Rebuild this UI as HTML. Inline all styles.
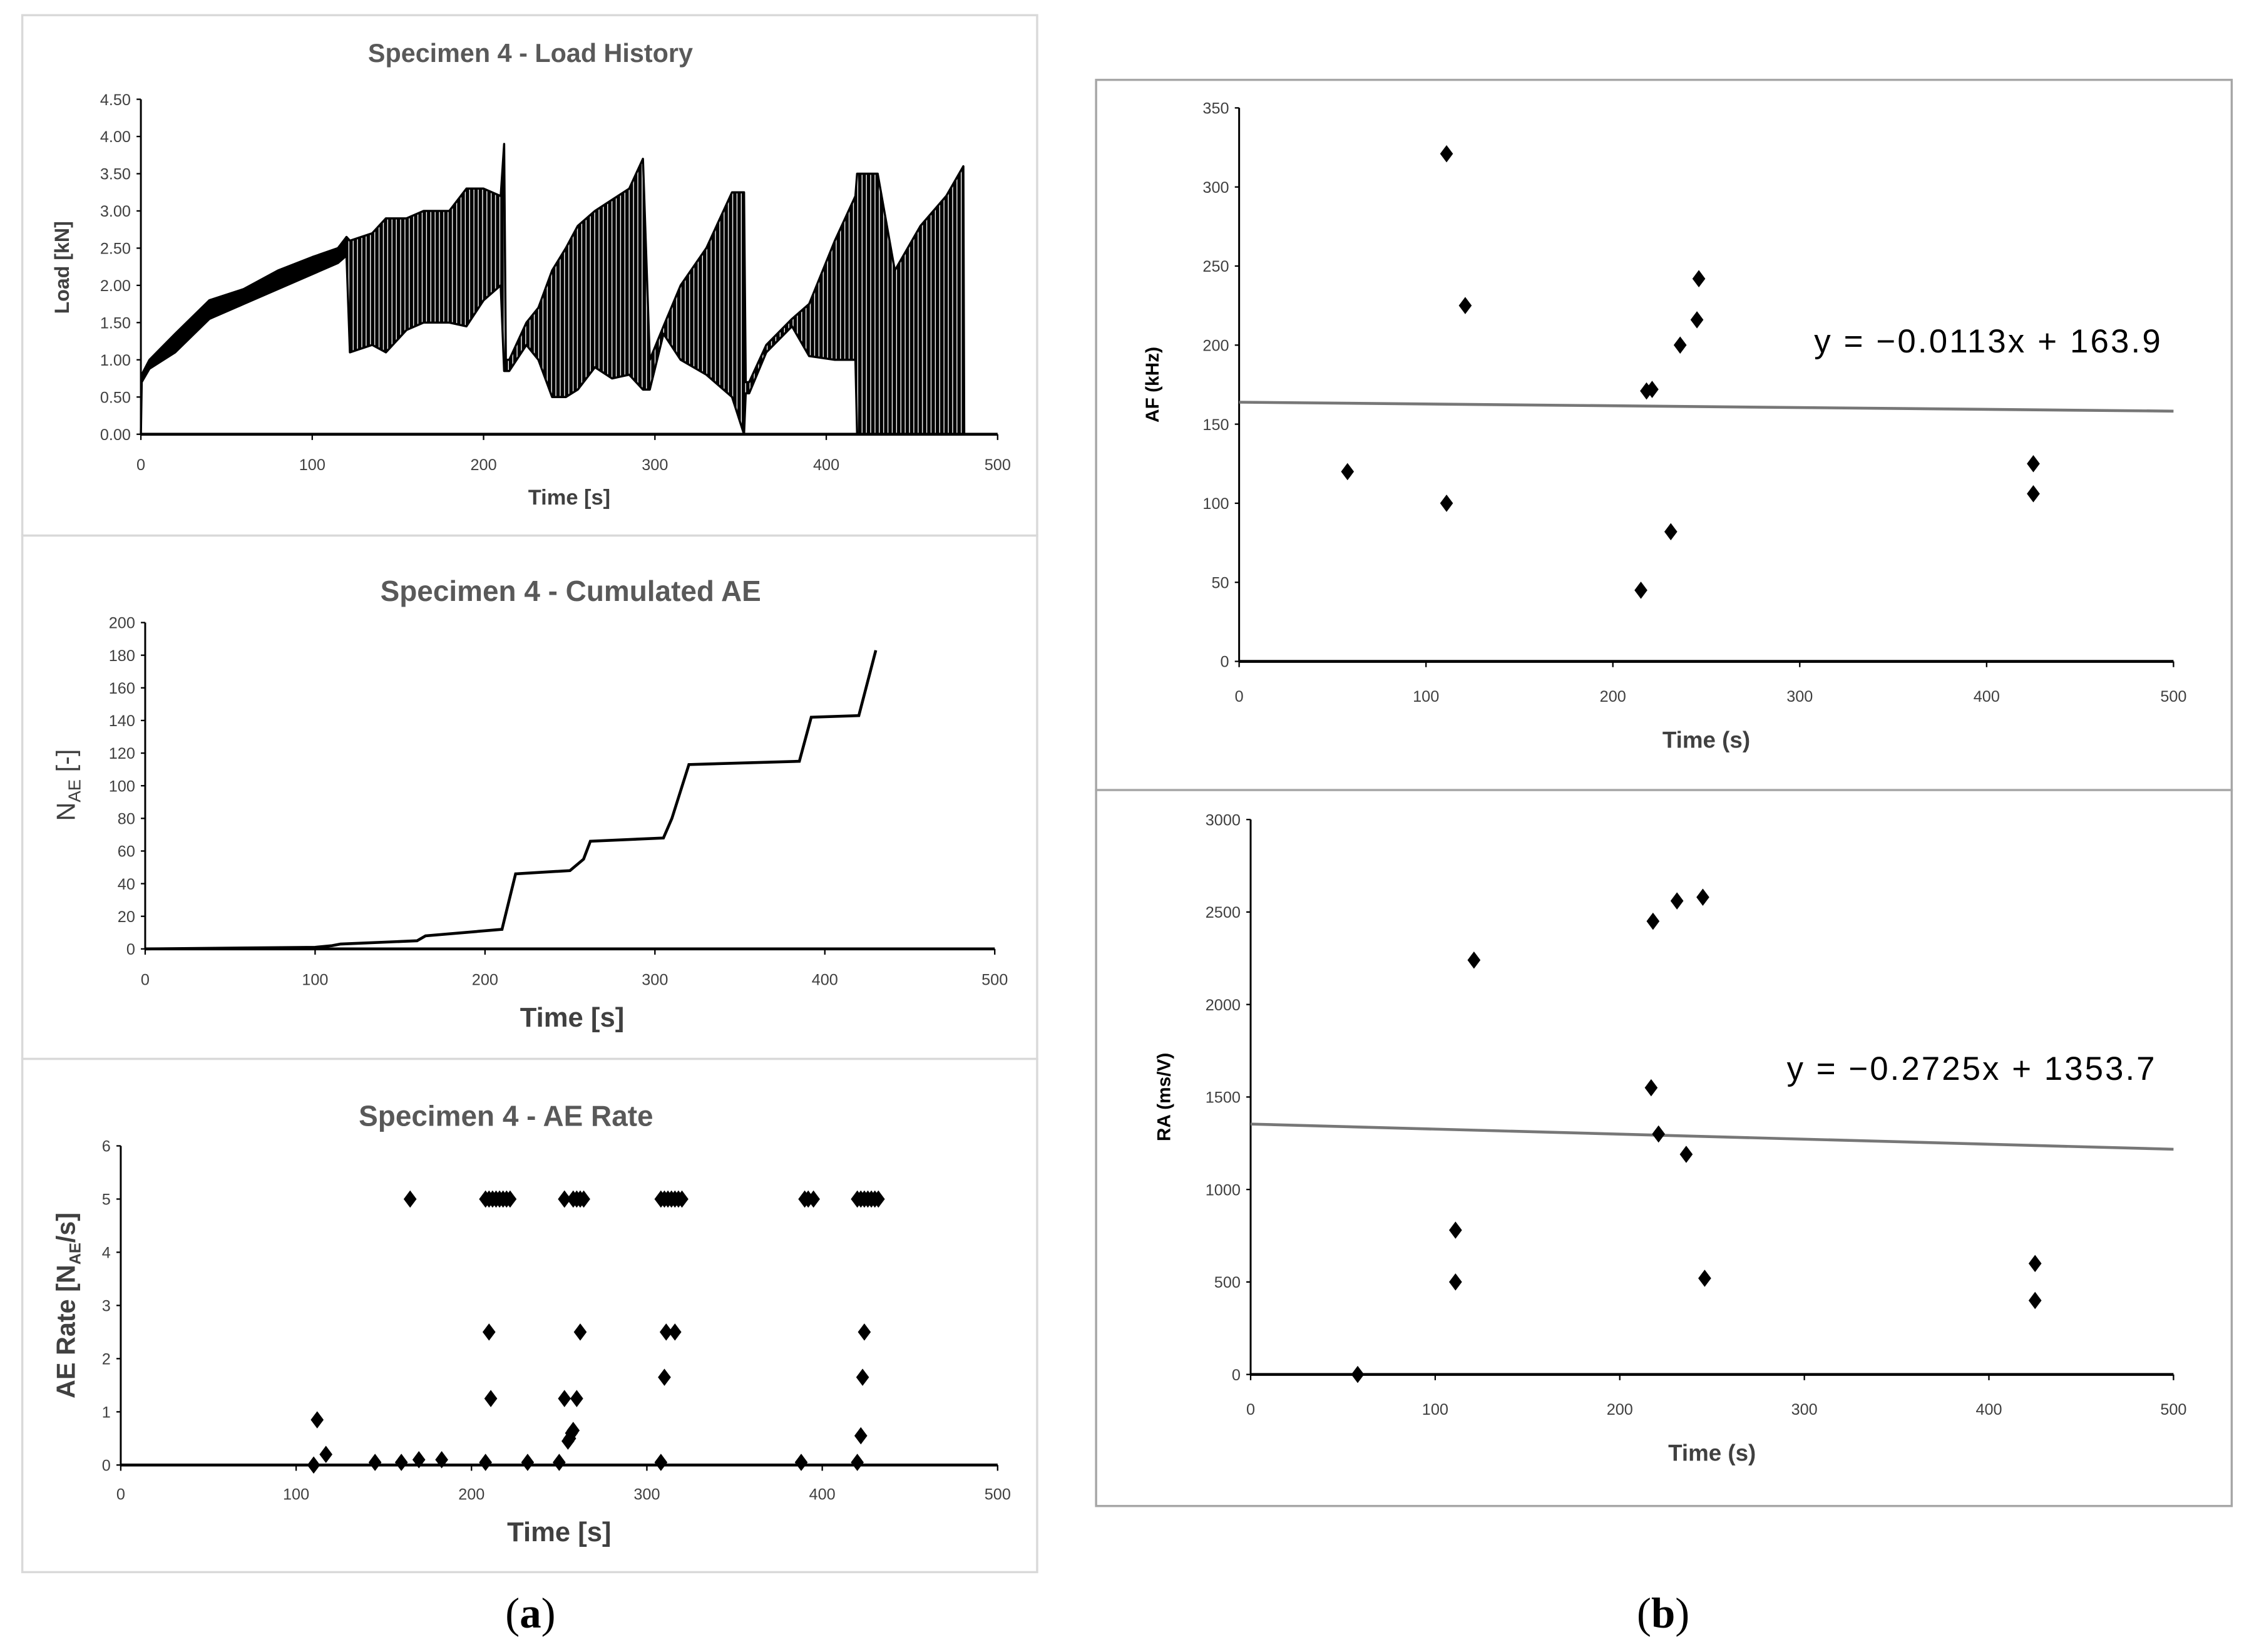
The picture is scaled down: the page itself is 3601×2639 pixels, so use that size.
<!DOCTYPE html>
<html><head><meta charset="utf-8"><style>
html,body{margin:0;padding:0;background:#fff}
svg{display:block}
text{font-family:"Liberation Sans Narrow","Liberation Sans",sans-serif}
.tick{fill:#404040;font-size:11px}
.title{fill:#595959;font-size:18px;font-weight:bold}
.axt{fill:#404040;font-size:15px;font-weight:bold}
</style></head><body>
<svg id="fig" width="3601" height="2639" viewBox="0 0 1568 1149" xmlns="http://www.w3.org/2000/svg">
<defs>
<pattern id="vstripes" patternUnits="userSpaceOnUse" width="3" height="10"><rect x="0" y="0" width="2.4" height="10" fill="#000"/></pattern>
</defs>
<rect x="0" y="0" width="1568" height="1149" fill="#fff"/>
<rect x="15.5" y="10.5" width="706" height="362" fill="#fff" stroke="#d9d9d9" stroke-width="1.5"/>
<rect x="15.5" y="372.5" width="706" height="364" fill="#fff" stroke="#d9d9d9" stroke-width="1.5"/>
<rect x="15.5" y="736.5" width="706" height="357" fill="#fff" stroke="#d9d9d9" stroke-width="1.5"/>
<rect x="762.5" y="55.5" width="790" height="494" fill="#fff" stroke="#a6a6a6" stroke-width="1.5"/>
<rect x="762.5" y="549.5" width="790" height="498" fill="#fff" stroke="#a6a6a6" stroke-width="1.5"/>
<text x="369" y="1132" text-anchor="middle" style="font-family:'Liberation Serif',serif;font-size:30px">(<tspan font-weight="bold">a</tspan>)</text>
<text x="1157" y="1132" text-anchor="middle" style="font-family:'Liberation Serif',serif;font-size:30px">(<tspan font-weight="bold">b</tspan>)</text>
<g id="g"></g>
</svg>
<script>
// Load history envelope
const loadT =   [0,0.5,5,20,40,60,80,100,115,120,122,135,143,155,165,180,190,200,210,212,213,215,225,232,240,248,255,265,275,285,293,297,305,315,330,345,352,353,355,365,380,390,405,417,418,430,440,455,470,480,480.5];
const loadHi =  [0,0.8,1.0,1.35,1.8,1.95,2.2,2.38,2.5,2.65,2.6,2.7,2.9,2.9,3.0,3.0,3.3,3.3,3.2,3.9,1.0,1.0,1.5,1.7,2.2,2.5,2.8,3.0,3.15,3.3,3.7,1.0,1.45,2.0,2.5,3.25,3.25,0.7,0.7,1.2,1.55,1.75,2.6,3.2,3.5,3.5,2.2,2.8,3.2,3.6,0];
const loadLo =  [0,0.7,0.88,1.1,1.55,1.75,1.95,2.15,2.3,2.4,1.1,1.2,1.1,1.4,1.5,1.5,1.45,1.8,2.0,0.85,0.85,0.85,1.2,1.0,0.5,0.5,0.6,0.9,0.75,0.8,0.6,0.6,1.35,1.0,0.8,0.5,0,0.55,0.55,1.1,1.45,1.05,1.0,1.0,0,0,0,0,0,0,0];
const loadYTicks = [0,0.5,1,1.5,2,2.5,3,3.5,4,4.5];
const timeTicks = [0,100,200,300,400,500];
// Cumulated AE
const cumT = [0,100,110,115,160,165,210,218,250,258,262,305,310,320,385,392,420,430];
const cumN = [0,1,2,3,5,8,12,46,48,55,66,68,80,113,115,142,143,183];
const cumYTicks = [0,20,40,60,80,100,120,140,160,180,200];
// AE rate
const rateT = [110,112,117,145,160,165,170,183,208,210,211,208,210,212,214,216,218,220,222,232,250,253,253,255,256,257,258,260,262,253,258,260,262,264,308,310,311,316,308,310,312,314,316,318,320,388,390,392,395,420,422,423,424,420,422,424,426,428,430,432];
const rateV = [0,0.85,0.2,0.05,0.05,5,0.1,0.1,0.05,2.5,1.25,5,5,5,5,5,5,5,5,0.05,0.05,1.25,5,0.45,0.5,0.6,0.65,1.25,2.5,5,5,5,5,5,0.05,1.65,2.5,2.5,5,5,5,5,5,5,5,0.05,5,5,5,0.05,0.55,1.65,2.5,5,5,5,5,5,5,5];
const rateYTicks = [0,1,2,3,4,5,6];
// AF
const afT = [58,111,111,121,215,218,221,231,236,245,246,425,425];
const afV = [120,321,100,225,45,171,172,82,200,216,242,125,106];
const afTrend = [-0.0113,163.9];
const afYTicks = [0,50,100,150,200,250,300,350];
// RA
const raT = [58,111,111,121,217,218,221,231,236,245,246,425,425];
const raV = [0,780,500,2240,1550,2450,1300,2560,1190,2580,520,600,400];
const raTrend = [-0.2725,1353.7];
const raYTicks = [0,500,1000,1500,2000,2500,3000];

const NS="http://www.w3.org/2000/svg";
const G=document.getElementById('g');
function el(tag,attrs,parent){const e=document.createElementNS(NS,tag);for(const k in attrs)e.setAttribute(k,attrs[k]);(parent||G).appendChild(e);return e;}
function txt(s,attrs,parent){const e=el('text',attrs,parent);e.textContent=s;return e;}
function scale(d0,d1,r0,r1){return v=>r0+(v-d0)/(d1-d0)*(r1-r0);}

function axes(o){
  const g=el('g',{});
  
  
  el('line',{x1:o.x0,y1:o.y0,x2:o.x0,y2:o.y1,stroke:'#000','stroke-width':1.3},g);
  el('line',{x1:o.x0,y1:o.y0,x2:o.x1,y2:o.y0,stroke:'#000','stroke-width':2},g);
  o.yt.forEach(v=>{const y=o.sy(v);
    el('line',{x1:o.x0-3,y1:y,x2:o.x0,y2:y,stroke:'#000'},g);
    const t=txt(o.yf?o.yf(v):String(v),{x:o.x0-7,y:y+4,'text-anchor':'end',class:'tick'},g);
    
    });
  timeTicks.forEach(v=>{const x=o.sx(v);
    el('line',{x1:x,y1:o.y0,x2:x,y2:o.y0+4,stroke:'#000'},g);
    const t=txt(String(v),{x:x,y:o.y0+o.xlo,'text-anchor':'middle',class:'tick'},g);
    
    });
}
function diamond(x,y,r,parent,name){
  const p=el('path',{d:`M${x},${y-r}L${x+r*0.75},${y}L${x},${y+r}L${x-r*0.75},${y}Z`,fill:'#000'},parent);
  
  
}

// ---- Chart 1: load history
{const x0=98,x1=694,y0=302,y1=69;
 const sx=scale(0,500,x0,x1), sy=scale(0,4.5,y0,y1);
 const t=txt('Specimen 4 - Load History',{x:369,y:43,'text-anchor':'middle',class:'title'});
 
 axes({name:'load',x0,x1,y0,y1,sx,sy,yt:loadYTicks,yf:v=>v.toFixed(2),xlo:25});
 function band(i0,i1,fill,name){
   let pts=[];
   for(let i=i0;i<=i1;i++)pts.push(sx(loadT[i])+','+sy(loadHi[i]));
   for(let i=i1;i>=i0;i--)pts.push(sx(loadT[i])+','+sy(loadLo[i]));
   const p=el('polygon',{points:pts.join(' '),fill:fill,stroke:'#000','stroke-width':1.5,'stroke-linejoin':'round'});
   
 }
 const split=loadT.indexOf(120);
 band(0,split,'#000','load-series-initial');
 band(split,loadT.length-1,'url(#vstripes)','load-series-cycling');
 const a=txt('Load [kN]',{x:0,y:0,transform:`translate(48,186) rotate(-90)`,'text-anchor':'middle',class:'axt',style:'font-family:"Liberation Sans",sans-serif;font-size:14px;fill:#404040'});
 
 const b=txt('Time [s]',{x:396,y:351,'text-anchor':'middle',class:'axt'});
 
}
// ---- Chart 2: cumulated AE
{const x0=101,x1=692,y0=660,y1=433;
 const sx=scale(0,500,x0,x1), sy=scale(0,200,y0,y1);
 const t=txt('Specimen 4 - Cumulated AE',{x:397,y:418,'text-anchor':'middle',class:'title',style:'font-size:20px'});
 
 axes({name:'cum',x0,x1,y0,y1,sx,sy,yt:cumYTicks,xlo:25});
 const p=el('polyline',{points:cumT.map((v,i)=>sx(v)+','+sy(cumN[i])).join(' '),fill:'none',stroke:'#000','stroke-width':2});
 
 const a=el('text',{transform:'translate(52,546) rotate(-90)','text-anchor':'middle',style:'font-family:"Liberation Sans",sans-serif;font-size:18px;fill:#404040'});
 a.innerHTML='N<tspan font-size="12" dy="4">AE</tspan><tspan dy="-4"> [-]</tspan>';
 
 const b=txt('Time [s]',{x:398,y:714,'text-anchor':'middle',class:'axt',style:'font-size:19px'});
 
}
// ---- Chart 3: AE rate
{const x0=84,x1=694,y0=1019,y1=797;
 const sx=scale(0,500,x0,x1), sy=scale(0,6,y0,y1);
 const t=txt('Specimen 4 - AE Rate',{x:352,y:783,'text-anchor':'middle',class:'title',style:'font-size:20px'});
 
 axes({name:'rate',x0,x1,y0,y1,sx,sy,yt:rateYTicks,xlo:24});
 const g=el('g',{});
 rateT.forEach((v,i)=>diamond(sx(v),sy(rateV[i]),6,g,'ae-rate-point'));
 const a=el('text',{transform:'translate(52,908) rotate(-90)','text-anchor':'middle',style:'font-family:"Liberation Sans",sans-serif;font-size:18px;font-weight:bold;fill:#404040'});
 a.innerHTML='AE Rate [N<tspan font-size="11" dy="4">AE</tspan><tspan dy="-4">/s]</tspan>';
 
 const b=txt('Time [s]',{x:389,y:1072,'text-anchor':'middle',class:'axt',style:'font-size:19px'});
 
}
// ---- Chart b: AF & RA
function scatterTrend(o){
 const sx=scale(0,500,o.x0,o.x1), sy=scale(0,o.ymax,o.y0,o.y1);
 axes({name:o.name,x0:o.x0,x1:o.x1,y0:o.y0,y1:o.y1,sx,sy,yt:o.yt,xlo:28});
 const l=el('line',{x1:sx(0),y1:sy(o.tr[1]),x2:sx(500),y2:sy(o.tr[0]*500+o.tr[1]),stroke:'#777','stroke-width':2});
 
 const g=el('g',{});
 o.t.forEach((v,i)=>diamond(sx(v),sy(o.v[i]),6,g,o.name+'-point'));
 const e=txt(o.eq,{x:o.ex,y:o.ey,style:'font-family:"Liberation Sans Narrow","Liberation Sans",sans-serif;font-size:23px;fill:#000'});
 e.setAttribute('textLength',o.ew);
 
 const a=txt(o.ylab,{x:0,y:0,transform:`translate(${o.x0-56},${(o.y0+o.y1)/2}) rotate(-90)`,'text-anchor':'middle',style:'font-family:"Liberation Sans",sans-serif;font-size:13px;font-weight:bold;fill:#000'});
 
 const b=txt('Time (s)',{x:(o.x0+o.x1)/2,y:o.y0+60,'text-anchor':'middle',class:'axt',style:'font-size:16px'});
 
}
scatterTrend({name:'af',x0:862,x1:1512,y0:460,y1:75,ymax:350,yt:afYTicks,t:afT,v:afV,tr:afTrend,eq:'y = \u22120.0113x + 163.9',ex:1262,ey:245,ew:241,ylab:'AF (kHz)'});
scatterTrend({name:'ra',x0:870,x1:1512,y0:956,y1:570,ymax:3000,yt:raYTicks,t:raT,v:raV,tr:raTrend,eq:'y = \u22120.2725x + 1353.7',ex:1243,ey:751,ew:256,ylab:'RA (ms/V)'});
</script>
</body></html>
